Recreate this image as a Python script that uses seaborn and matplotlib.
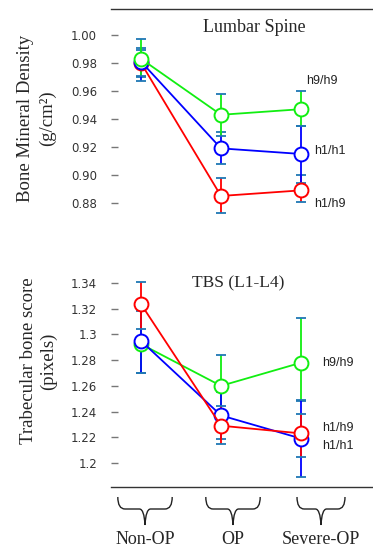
import numpy as np
import pandas as pd
import matplotlib
matplotlib.use("Agg")
import matplotlib.pyplot as plt
import matplotlib.transforms as mtransforms
from matplotlib.path import Path
from matplotlib.patches import PathPatch
import seaborn as sns

categories = ["Non-OP", "OP", "Severe-OP"]
genotypes = ["h1/h1", "h1/h9", "h9/h9"]
colors = {"h1/h1": "#0000ff", "h1/h9": "#ff0000", "h9/h9": "#11ee11"}

# Lumbar spine BMD (g/cm2): mean, lower error, upper error
bmd_mean = {"h1/h1": [0.981, 0.919, 0.915], "h1/h9": [0.980, 0.885, 0.889], "h9/h9": [0.983, 0.943, 0.947]}
bmd_lo = {"h1/h1": [0.014, 0.011, 0.021], "h1/h9": [0.010, 0.012, 0.008], "h9/h9": [0.012, 0.015, 0.012]}
bmd_hi = {"h1/h1": [0.008, 0.012, 0.020], "h1/h9": [0.011, 0.013, 0.011], "h9/h9": [0.014, 0.015, 0.013]}

# TBS (L1-L4)
tbs_mean = {"h1/h1": [1.295, 1.237, 1.219], "h1/h9": [1.3236, 1.229, 1.223], "h9/h9": [1.2925, 1.260, 1.278]}
tbs_lo = {"h1/h1": [0.025, 0.018, 0.030], "h1/h9": [0.019, 0.014, 0.018], "h9/h9": [0.0225, 0.024, 0.030]}
tbs_hi = {"h1/h1": [0.025, 0.018, 0.030], "h1/h9": [0.017, 0.015, 0.015], "h9/h9": [0.0255, 0.024, 0.035]}

bmd_ticks = [0.88, 0.90, 0.92, 0.94, 0.96, 0.98, 1.00]
bmd_ticklabels = ["0.88", "0.90", "0.92", "0.94", "0.96", "0.98", "1.00"]
tbs_ticks = [1.20, 1.22, 1.24, 1.26, 1.28, 1.30, 1.32, 1.34]
tbs_ticklabels = ["1.2", "1.22", "1.24", "1.26", "1.28", "1.3", "1.32", "1.34"]

SERIF = "Liberation Serif"
SANS = "Liberation Sans"

sns.set_style("white")
plt.rcParams["font.family"] = [SANS, "DejaVu Sans"]

W, H = 373, 550
fig = plt.figure(figsize=(W / 100, H / 100), dpi=100)

def fy(px):
    return 1 - px / H

ax1 = fig.add_axes([111 / W, fy(215), 1 - 111 / W, 206 / H])
ax2 = fig.add_axes([111 / W, fy(487), 1 - 111 / W, 237 / H])

def draw(ax, mean, lo, hi, order):
    rows = []
    for g in genotypes:
        for i, c in enumerate(categories):
            rows.append({"x": i, "y": mean[g][i], "g": g})
    df = pd.DataFrame(rows)
    for g in order:
        ax.errorbar(range(len(categories)), mean[g], yerr=[lo[g], hi[g]], fmt="none",
                    ecolor=colors[g], elinewidth=1.3, capsize=3.5, capthick=1.3, zorder=2)
    sns.lineplot(data=df, x="x", y="y", hue="g", hue_order=order, palette=colors,
                 marker="o", markersize=10, markerfacecolor="white", markeredgewidth=1.4,
                 linewidth=1.3, legend=False, ax=ax, zorder=3)
    for ln in ax.lines:
        ln.set_markeredgecolor(ln.get_color())

draw(ax1, bmd_mean, bmd_lo, bmd_hi, ["h1/h9", "h1/h1", "h9/h9"])
draw(ax2, tbs_mean, tbs_lo, tbs_hi, ["h9/h9", "h1/h1", "h1/h9"])

ax1.set_xlim(-0.375, 2.9)
ax2.set_xlim(-0.375, 2.9)
ax1.set_ylim(0.8714, 1.01857)
ax2.set_ylim(1.1813, 1.3657)

for ax, ticks, labels in [(ax1, bmd_ticks, bmd_ticklabels), (ax2, tbs_ticks, tbs_ticklabels)]:
    ax.set_yticks(ticks)
    ax.set_yticklabels(labels, family=["DejaVu Sans"])
    ax.set_xticks([])
    ax.set_xlabel("")
    ax.set_ylabel("")
    ax.tick_params(axis="y", direction="in", length=5, width=1, color="#777777",
                   pad=10, labelsize=8.5, labelcolor="#333333", left=True)
    for s in ["left", "right", "top", "bottom"]:
        ax.spines[s].set_visible(False)
    ax.patch.set_alpha(0)

ax1.spines["top"].set_visible(True)
ax1.spines["top"].set_color("#333333")
ax1.spines["top"].set_linewidth(1.0)
ax2.spines["bottom"].set_visible(True)
ax2.spines["bottom"].set_color("#333333")
ax2.spines["bottom"].set_linewidth(1.0)

# titles
fig.text(254 / W, fy(28), "Lumbar Spine", family=SERIF, fontsize=13, ha="center", va="center")
fig.text(238 / W, fy(283), "TBS (L1-L4)", family=SERIF, fontsize=12.5, ha="center", va="center")

# y labels
fig.text(26 / W, fy(118), "Bone Mineral Density", family=SERIF, fontsize=13.5, rotation=90, ha="center", va="center")
fig.text(47 / W, fy(118), "(g/cm²)", family=SERIF, fontsize=13.5, rotation=90, ha="center", va="center")
fig.text(29 / W, fy(361), "Trabecular bone score", family=SERIF, fontsize=13.5, rotation=90, ha="center", va="center")
fig.text(48 / W, fy(361), "(pixels)", family=SERIF, fontsize=13.5, rotation=90, ha="center", va="center")

# series labels
lab_kw = dict(fontsize=9, color="#222222", va="center", ha="left")
ax1.text(2.07, 0.967, "h9/h9", **lab_kw)
ax1.text(2.17, 0.917, "h1/h1", **lab_kw)
ax1.text(2.17, 0.879, "h1/h9", **lab_kw)
ax2.text(2.27, 1.278, "h9/h9", **lab_kw)
ax2.text(2.27, 1.227, "h1/h9", **lab_kw)
ax2.text(2.27, 1.213, "h1/h1", **lab_kw)

# braces and category labels (layout positions in x-data units)
brace_centers = [0.05, 1.15, 2.25]
brace_half = [0.34, 0.34, 0.30]
tr = mtransforms.blended_transform_factory(ax2.transData, fig.transFigure)
for c, cx, hw in zip(categories, brace_centers, brace_half):
    verts = [(cx - hw, fy(497)), (cx - hw, fy(509)), (cx - hw + 0.09, fy(509)),
             (cx - 0.07, fy(509)),
             (cx - 0.01, fy(509)), (cx, fy(525)),
             (cx + 0.01, fy(509)), (cx + 0.07, fy(509)),
             (cx + hw - 0.09, fy(509)),
             (cx + hw, fy(509)), (cx + hw, fy(497))]
    codes = [Path.MOVETO, Path.CURVE3, Path.CURVE3, Path.LINETO,
             Path.CURVE3, Path.CURVE3, Path.CURVE3, Path.CURVE3,
             Path.LINETO, Path.CURVE3, Path.CURVE3]
    patch = PathPatch(Path(verts, codes), transform=tr, fill=False, lw=1.0,
                      edgecolor="#222222", clip_on=False)
    fig.add_artist(patch)
    t = fig.text(0, 0, c, transform=tr, family=SERIF, fontsize=13, ha="center", va="center")
    t.set_position((cx, fy(540)))

fig.savefig("out.png", dpi=100)
